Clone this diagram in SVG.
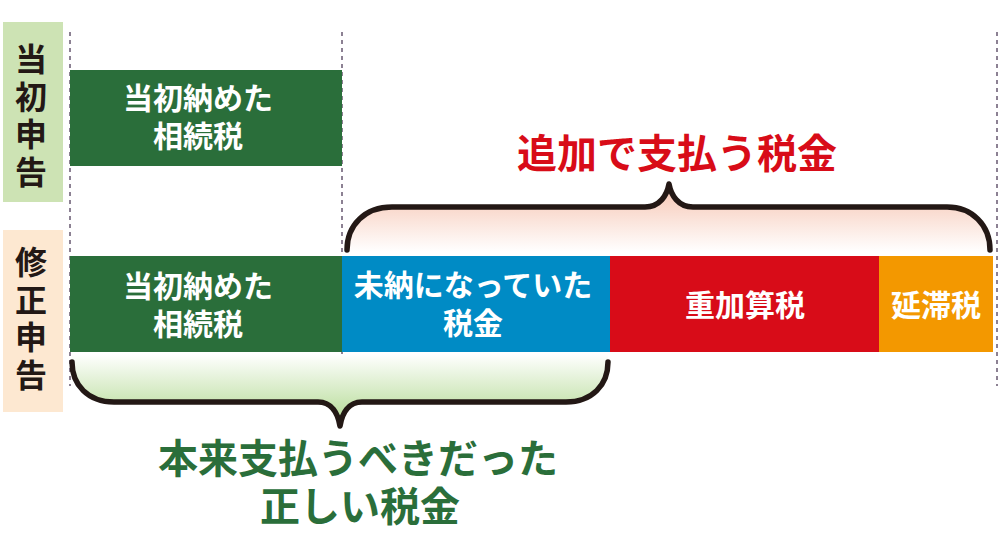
<svg xmlns="http://www.w3.org/2000/svg" width="1001" height="560" viewBox="0 0 1001 560">
<defs>
<linearGradient id="gPink" x1="0" y1="0" x2="0" y2="1">
<stop offset="0" stop-color="#f6c4b1"/>
<stop offset="1" stop-color="#ffffff"/>
</linearGradient>
<linearGradient id="gGreen" x1="0" y1="0" x2="0" y2="1">
<stop offset="0" stop-color="#ffffff"/>
<stop offset="0.75" stop-color="#c4e2ab"/>
<stop offset="1" stop-color="#a9d98a"/>
</linearGradient>
<style>
text{font-family:"Noto Sans CJK JP","Noto Sans",sans-serif;font-weight:bold;}
.w{fill:#ffffff;font-size:30px;text-anchor:middle;}
.v{fill:#231815;font-size:32px;writing-mode:vertical-rl;letter-spacing:5.5px;}
.dot{stroke:#8c8193;stroke-width:2;stroke-dasharray:4 4;fill:none;}
.brace{stroke:#231815;stroke-width:5.5;fill:none;stroke-linecap:round;stroke-linejoin:round;}
</style>
</defs>
<rect width="1001" height="560" fill="#ffffff"/>

<g id="guides">
<line class="dot" x1="70" y1="32" x2="70" y2="386"/>
<line class="dot" x1="342" y1="32" x2="342" y2="386"/>
<line class="dot" x1="997" y1="32" x2="997" y2="386"/>
</g>

<g id="label-initial">
<rect x="3" y="22" width="60" height="180" fill="#cde3b4"/>
<text class="v" x="31" y="43">当初申告</text>
</g>
<g id="label-amended">
<rect x="3" y="230" width="60" height="182" fill="#fde8d1"/>
<text class="v" x="31" y="246">修正申告</text>
</g>

<g id="initial-paid">
<rect x="70" y="70" width="272" height="96" fill="#2a6e3a"/>
<text class="w" x="198" y="109">当初納めた<tspan x="198" dy="38">相続税</tspan></text>
</g>

<g id="amended-paid">
<rect x="70" y="256" width="272" height="96" fill="#2a6e3a"/>
<text class="w" x="198" y="297">当初納めた<tspan x="198" dy="38">相続税</tspan></text>
</g>
<g id="unpaid">
<rect x="342" y="256" width="268" height="96" fill="#008bc5"/>
<text class="w" x="473" y="296">未納になっていた<tspan x="473" dy="38">税金</tspan></text>
</g>
<g id="penalty">
<rect x="610" y="256" width="269" height="96" fill="#d80c18"/>
<text class="w" x="745" y="316">重加算税</text>
</g>
<g id="delinquency">
<rect x="879" y="256" width="114" height="96" fill="#f39800"/>
<text class="w" x="936" y="316">延滞税</text>
</g>

<g id="connectors">
<path d="M347,252 L347,250 C347,225 365,207 392,207 L645,207 C660,207 667,195 669,184 C671,195 678,207 693,207 L947,207 C972,207 990,225 990,250 L990,252 Z" fill="url(#gPink)"/>
<path class="brace" d="M347,250 C347,225 365,207 392,207 L645,207 C660,207 667,195 669,184 C671,195 678,207 693,207 L947,207 C972,207 990,225 990,250"/>
<path d="M72,354 L72,362 C72,385 88,402 114,402 L318,402 C332,402 338,414 340,426 C342,414 348,402 362,402 L566,402 C592,402 608,385 608,362 L608,354 Z" fill="url(#gGreen)"/>
<path class="brace" d="M72,362 C72,385 88,402 114,402 L318,402 C332,402 338,414 340,426 C342,414 348,402 362,402 L566,402 C592,402 608,385 608,362"/>
</g>

<g id="title-additional">
<text x="677" y="168" fill="#d80c18" font-size="40" text-anchor="middle">追加で支払う税金</text>
</g>
<g id="title-correct">
<text x="358" y="473" fill="#2a6e3a" font-size="40" text-anchor="middle">本来支払うべきだった<tspan x="360" dy="48">正しい税金</tspan></text>
</g>
</svg>
